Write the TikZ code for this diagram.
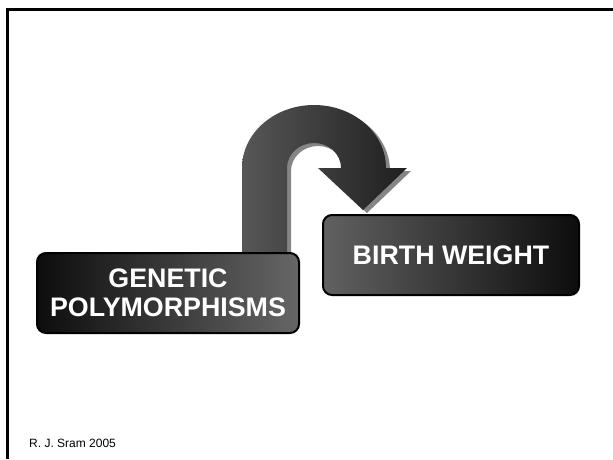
\documentclass[tikz,border=0pt]{standalone}
\usepackage{fontspec}
\setmainfont{Liberation Sans}
\begin{document}
\begin{tikzpicture}[x=1pt,y=-1pt,
  box/.style={draw=black, line width=2pt, rounded corners=9pt, minimum width=262pt, minimum height=80pt, inner sep=0pt, text=white, align=center, font=\bfseries\fontsize{26.8}{29}\selectfont},
  arrowshadow/.style={fill=black!48},
  arrowbody/.style={left color=black!66, right color=black!88}
]
\useasboundingbox (0,0) rectangle (613,459);
\fill[white] (0,0) rectangle (613,459);
% frame
\draw[line width=2.2pt] (7.5,459) -- (7.5,9.5) -- (613,9.5);
% curved arrow: shadow then body
\def\arrowpath{(242,265) -- (242,168) arc[start angle=180,end angle=0,x radius=72pt,y radius=63pt] -- (407,168) -- (363,210) -- (318,168) -- (341,168) arc[start angle=0,end angle=180,x radius=27pt,y radius=25pt] -- (287,265) -- cycle}
\fill[arrowshadow, shift={(4,3)}] \arrowpath;
\shade[arrowbody] \arrowpath;
% boxes
\node[box, left color=black!95, right color=black!60] (gp) at (168,293) {GENETIC\\POLYMORPHISMS};
\node[box, minimum width=256pt, left color=black!62, right color=black!95] (bw) at (451,255) {BIRTH WEIGHT};
% footer
\node[anchor=base west, inner sep=0pt, font=\fontsize{12}{14}\selectfont] (au) at (29,447) {R. J. Sram 2005};
\end{tikzpicture}
\end{document}
